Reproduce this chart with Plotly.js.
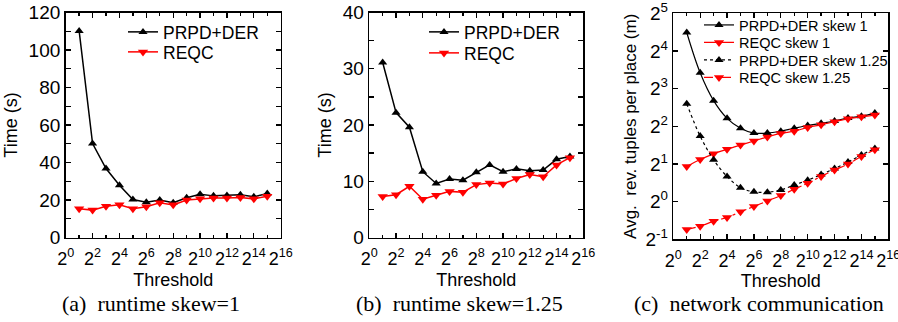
<!DOCTYPE html>
<html><head><meta charset="utf-8">
<script src="https://cdn.plot.ly/plotly-3.0.1.min.js"></script>
<style>html,body{margin:0;padding:0;background:#fff}#chart{width:898px;height:322px}</style>
</head><body><div id="chart"></div>
<script>
// Thresholds (2^1 .. 2^15)
const thresholds = [2,4,8,16,32,64,128,256,512,1024,2048,4096,8192,16384,32768];

// (a) runtime skew=1, seconds
const prpdSkew1Time = [110.2,50.1,36.8,27.9,20.3,18.8,20.0,18.5,21.2,23.1,22.2,22.4,22.8,21.7,23.5];
const reqcSkew1Time = [15.3,14.6,16.7,17.4,15.3,16.4,18.5,17.4,20.0,20.6,21.0,21.0,21.3,20.6,22.0];

// (b) runtime skew=1.25, seconds
const prpdSkew125Time = [31.1,22.2,19.6,11.7,9.6,10.4,10.2,11.6,12.9,11.7,12.2,11.85,12.0,13.9,14.4];
const reqcSkew125Time = [7.3,7.6,9.1,6.8,7.5,8.2,8.05,9.4,9.7,9.5,10.5,11.2,10.8,12.9,14.2];

// (c) network communication, avg. rev. tuples per place (m)
const prpdSkew1Net = [22.47,10.70,6.41,4.63,3.86,3.53,3.53,3.66,3.86,4.06,4.23,4.41,4.66,4.82,5.10];
const reqcSkew1Net = [1.905,2.17,2.41,2.62,2.83,3.05,3.29,3.51,3.66,3.92,4.11,4.35,4.59,4.76,4.92];
const prpdSkew125Net = [6.06,3.34,2.16,1.591,1.292,1.197,1.189,1.240,1.357,1.484,1.647,1.840,2.07,2.36,2.66];
const reqcSkew125Net = [0.599,0.637,0.697,0.747,0.829,0.914,1.014,1.117,1.257,1.404,1.591,1.790,2.0,2.297,2.603];

// Tick labels
const xMajorVals = [1,4,16,64,256,1024,4096,16384,65536];
const xMajorText = ['2<sup>0</sup>','2<sup>2</sup>','2<sup>4</sup>','2<sup>6</sup>','2<sup>8</sup>','2<sup>10</sup>','2<sup>12</sup>','2<sup>14</sup>','2<sup>16</sup>'];
const xMinorVals = [2,8,32,128,512,2048,8192,32768];
const yLogVals = [0.5,1,2,4,8,16,32];
const yLogText = ['2<sup>-1</sup>','2<sup>0</sup>','2<sup>1</sup>','2<sup>2</sup>','2<sup>3</sup>','2<sup>4</sup>','2<sup>5</sup>'];

const FONT = 'Liberation Sans, Arial, sans-serif';
const SERIF = 'Liberation Serif, Times New Roman, serif';
const black = '#000000', red = '#ff0000';

function up(color){return {symbol:'triangle-up',size:8,color:color};}
function down(color){return {symbol:'triangle-down',size:9,color:color};}

const traces = [
  {x:thresholds,y:prpdSkew1Time,xaxis:'x',yaxis:'y',name:'PRPD+DER',mode:'lines+markers',line:{color:black,width:1.5},marker:up(black),legend:'legend'},
  {x:thresholds,y:reqcSkew1Time,xaxis:'x',yaxis:'y',name:'REQC',mode:'lines+markers',line:{color:red,width:1.5},marker:down(red),legend:'legend2'},
  {x:thresholds,y:prpdSkew125Time,xaxis:'x2',yaxis:'y2',name:'PRPD+DER',mode:'lines+markers',line:{color:black,width:1.5},marker:up(black),legend:'legend3'},
  {x:thresholds,y:reqcSkew125Time,xaxis:'x2',yaxis:'y2',name:'REQC',mode:'lines+markers',line:{color:red,width:1.5},marker:down(red),legend:'legend4'},
  {x:thresholds,y:prpdSkew1Net,xaxis:'x3',yaxis:'y3',name:'PRPD+DER skew 1',mode:'lines+markers',line:{color:black,width:1.2,shape:'spline'},marker:up(black),legend:'legend5'},
  {x:thresholds,y:reqcSkew1Net,xaxis:'x3',yaxis:'y3',name:'REQC skew 1',mode:'lines+markers',line:{color:red,width:1.2,shape:'spline'},marker:down(red),legend:'legend6'},
  {x:thresholds,y:prpdSkew125Net,xaxis:'x3',yaxis:'y3',name:'PRPD+DER skew 1.25',mode:'lines+markers',line:{color:black,width:1.2,shape:'spline',dash:'dot'},marker:up(black),legend:'legend7'},
  {x:thresholds,y:reqcSkew125Net,xaxis:'x3',yaxis:'y3',name:'REQC skew 1.25',mode:'lines+markers',line:{color:red,width:1.2,shape:'spline',dash:'dashdot'},marker:down(red),legend:'legend8'}
];

function xAxis(domain, anchor){
  return {
    domain:domain, anchor:anchor, type:'log', range:[0, Math.log10(65536)],
    tickmode:'array', tickvals:xMajorVals, ticktext:xMajorText, tickangle:0,
    ticks:'inside', ticklen:5, tickwidth:1.3, tickcolor:black, ticklabelstandoff:4,
    minor:{tickmode:'array', tickvals:xMinorVals, ticks:'inside', ticklen:3, tickwidth:1.3, tickcolor:black},
    showline:true, linecolor:black, linewidth:1.6, mirror:'allticks',
    showgrid:false, zeroline:false, ticklabeloverflow:'allow',
    tickfont:{family:FONT,size:18,color:black},
    title:{text:'Threshold', font:{family:FONT,size:18,color:black}, standoff:5}
  };
}
function yLin(domain, anchor, max, dtick, minorD){
  return {
    domain:domain, anchor:anchor, range:[0,max], dtick:dtick, tick0:0,
    ticks:'inside', ticklen:5, tickwidth:1.3, tickcolor:black,
    minor:{dtick:minorD, tick0:0, ticks:'inside', ticklen:5, tickwidth:1.3, tickcolor:black},
    showline:true, linecolor:black, linewidth:1.6, mirror:'allticks',
    showgrid:false, zeroline:false, ticklabeloverflow:'allow',
    tickfont:{family:FONT,size:19,color:black},
    title:{text:'Time (s)', font:{family:FONT,size:18,color:black}, standoff:6}
  };
}
function leg(xPx, yPx, size){
  return {x:xPx/898, y:1-yPx/322, xanchor:'left', yanchor:'middle', bgcolor:'rgba(0,0,0,0)', borderwidth:0,
          font:{family:FONT,size:size,color:black}};
}

const yDom = [1-237.5/322, 1-12.5/322];
const yDomC = [1-239.3/322, 1-13.3/322];

const layout = {
  width:898, height:322,
  margin:{l:0,r:0,t:0,b:0},
  paper_bgcolor:'#ffffff', plot_bgcolor:'#ffffff',
  font:{family:FONT,color:black},
  xaxis: xAxis([65.7/898, 280.7/898], 'y'),
  yaxis: yLin(yDom, 'x', 120, 20, 10),
  xaxis2: xAxis([369.3/898, 583.3/898], 'y2'),
  yaxis2: yLin(yDom, 'x2', 40, 10, 5),
  xaxis3: xAxis([673.3/898, 888.3/898], 'y3'),
  yaxis3: {
    domain:yDomC, anchor:'x3', type:'log', range:[Math.log10(0.5), Math.log10(32)],
    tickmode:'array', tickvals:yLogVals, ticktext:yLogText,
    ticks:'inside', ticklen:5, tickwidth:1.3, tickcolor:black,
    showline:true, linecolor:black, linewidth:1.6, mirror:'allticks',
    showgrid:false, zeroline:false, ticklabeloverflow:'allow',
    tickfont:{family:FONT,size:19,color:black},
    title:{text:'Avg.  rev. tuples per place (m)', font:{family:FONT,size:17,color:black}, standoff:4}
  },
  legend: leg(123, 32, 17.5),
  legend2: leg(123, 52, 17.5),
  legend3: leg(424, 32, 17.5),
  legend4: leg(424, 53, 17.5),
  legend5: leg(699, 25, 14.5),
  legend6: leg(699, 42.5, 14.5),
  legend7: leg(699, 60, 14.5),
  legend8: leg(699, 77.5, 14.5),
  showlegend:true,
  annotations:[
    {text:'(a)&nbsp;&nbsp;runtime skew=1', x:151/898, y:1-303/322, xref:'paper', yref:'paper', xanchor:'center', yanchor:'middle', showarrow:false, font:{family:SERIF, size:22, color:black}},
    {text:'(b)&nbsp;&nbsp;runtime skew=1.25', x:459/898, y:1-303/322, xref:'paper', yref:'paper', xanchor:'center', yanchor:'middle', showarrow:false, font:{family:SERIF, size:22, color:black}},
    {text:'(c)&nbsp;&nbsp;network communication', x:759/898, y:1-303/322, xref:'paper', yref:'paper', xanchor:'center', yanchor:'middle', showarrow:false, font:{family:SERIF, size:22, color:black}}
  ]
};

Plotly.newPlot('chart', traces, layout, {displayModeBar:false, staticPlot:true});
</script>
</body></html>
